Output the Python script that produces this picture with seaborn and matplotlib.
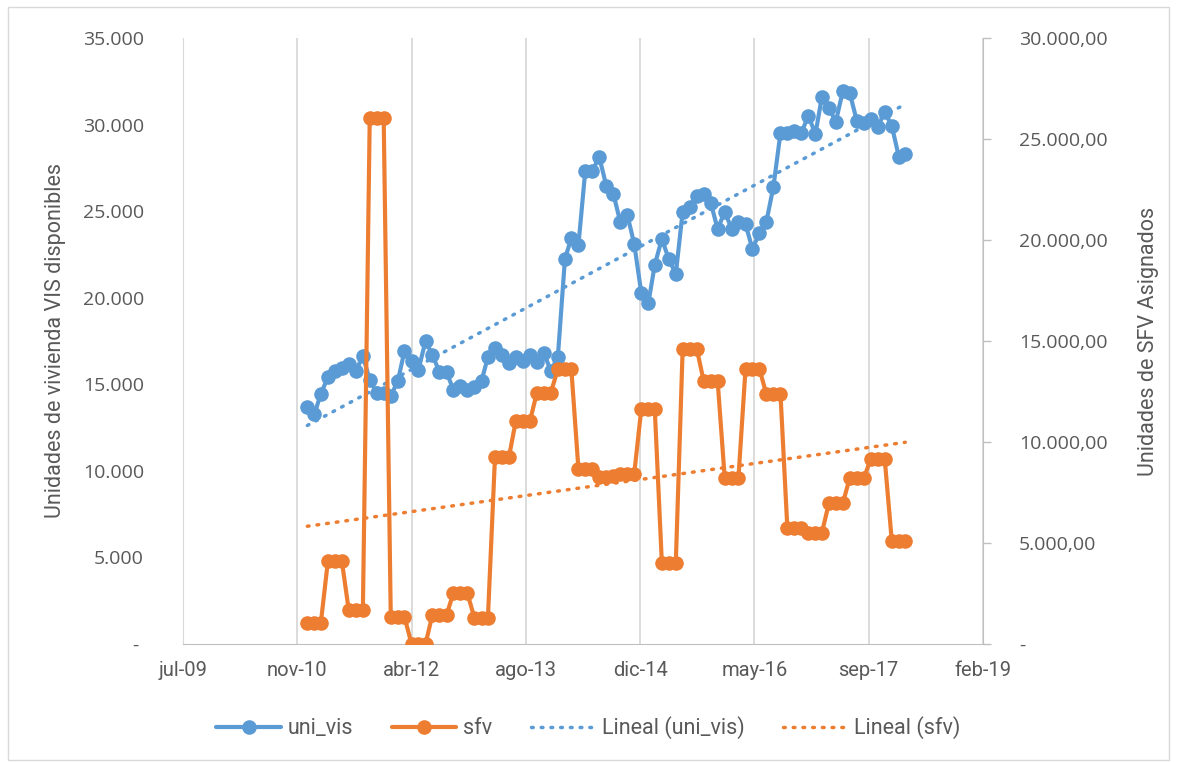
import numpy as np
import pandas as pd
import matplotlib
matplotlib.use("Agg")
import matplotlib.pyplot as plt
import matplotlib.dates as mdates
from matplotlib.ticker import FuncFormatter, MultipleLocator
from matplotlib.lines import Line2D
import seaborn as sns

# Monthly series, Jan 2011 - Mar 2018
uni_vis = [
    13690, 13290, 14440, 15420, 15770, 15940, 16180, 15770, 16640, 15250,
    14500, 14500, 14330, 15190, 16930, 16350, 15830, 17500, 16700, 15710,
    15710, 14670, 14900, 14670, 14850, 15190, 16580, 17100, 16700, 16230,
    16580, 16350, 16700, 16290, 16810, 15770, 16580, 22240, 23450, 23050,
    27330, 27330, 28130, 26460, 26000, 24380, 24780, 23110, 20280, 19700,
    21900, 23400, 22240, 21370, 24960, 25250, 25880, 26000, 25480, 23970,
    24960, 23970, 24380, 24260, 22820, 23740, 24380, 26400, 29520, 29520,
    29640, 29520, 30500, 29460, 31600, 30960, 30160, 31950, 31830, 30210,
    30100, 30330, 29870, 30730, 29920, 28130, 28310,
]
sfv = [
    1040, 1040, 1040, 4110, 4110, 4110, 1680, 1680, 1680, 26040,
    26040, 26040, 1340, 1340, 1340, 0, 0, 0, 1440, 1440,
    1440, 2520, 2520, 2520, 1290, 1290, 1290, 9260, 9260, 9260,
    11040, 11040, 11040, 12430, 12430, 12430, 13610, 13610, 13610, 8660,
    8660, 8660, 8260, 8260, 8300, 8420, 8420, 8420, 11630, 11630,
    11630, 4010, 4010, 4010, 14600, 14600, 14600, 13020, 13020, 13020,
    8220, 8220, 8220, 13610, 13610, 13610, 12380, 12380, 12380, 5740,
    5740, 5740, 5500, 5500, 5500, 6980, 6980, 6980, 8220, 8220,
    8220, 9160, 9160, 9160, 5100, 5100, 5100,
]
fechas = pd.date_range("2011-01-01", periods=len(uni_vis), freq="MS")

# Date axis: one major tick every 500 days
tick_dates = pd.to_datetime(["2009-07-06", "2010-11-18", "2012-04-01", "2013-08-14",
                             "2014-12-27", "2016-05-10", "2017-09-22", "2019-02-04"])
tick_labels = ["jul-09", "nov-10", "abr-12", "ago-13", "dic-14", "may-16", "sep-17", "feb-19"]

df = pd.DataFrame({"fecha": fechas, "uni_vis": uni_vis, "sfv": sfv})

BLUE = "#5B9BD5"
ORANGE = "#ED7D31"
TXT = "#595959"
GRID = "#D9D9D9"

sns.set_style("white")
plt.rcParams["font.family"] = ["Open Sans", "DejaVu Sans"]

fig = plt.figure(figsize=(11.77, 7.62), dpi=100)
W, H = 1177, 762
ax = fig.add_axes([183 / W, 1 - 644 / H, (983 - 183) / W, (644 - 38) / H])
ax2 = ax.twinx()

# chart frame
fig.patches.append(plt.Rectangle((8 / W, 2 / H), 1 - 16 / W, 1 - 9 / H, transform=fig.transFigure,
                                 fill=False, edgecolor=GRID, linewidth=1.0))

ms = 10.5
lw = 3.0
dots = (0, (0.5, 2.3))
sns.lineplot(data=df, x="fecha", y="uni_vis", ax=ax, color=BLUE, marker="o",
             markersize=ms, markeredgewidth=0, linewidth=lw, zorder=3)
sns.lineplot(data=df, x="fecha", y="sfv", ax=ax2, color=ORANGE, marker="o",
             markersize=ms, markeredgewidth=0, linewidth=lw, zorder=3)

# linear trendlines on the date number
xn = mdates.date2num(df["fecha"])
for serie, axis, col in [("uni_vis", ax, BLUE), ("sfv", ax2, ORANGE)]:
    m, b = np.polyfit(xn, df[serie].values, 1)
    tr = pd.DataFrame({"fecha": df["fecha"], "trend": m * xn + b})
    sns.lineplot(data=tr, x="fecha", y="trend", ax=axis, color=col,
                 linewidth=2.5, linestyle=dots, dash_capstyle="round", zorder=2)

# axes limits and ticks
ax.set_xlim(tick_dates[0], tick_dates[-1])
ax.set_xticks(tick_dates)
ax.set_xticklabels(tick_labels)
ax.set_ylim(0, 35000)
ax.yaxis.set_major_locator(MultipleLocator(5000))
ax2.set_ylim(0, 30000)
ax2.yaxis.set_major_locator(MultipleLocator(5000))


def fmt_left(v, pos):
    if v == 0:
        return "- "
    return f"{int(v):,}".replace(",", ".")


def fmt_right(v, pos):
    if v == 0:
        return "-"
    return f"{v:,.2f}".replace(",", "X").replace(".", ",").replace("X", ".")


ax.yaxis.set_major_formatter(FuncFormatter(fmt_left))
ax2.yaxis.set_major_formatter(FuncFormatter(fmt_right))

ax.grid(axis="x", color=GRID, linewidth=1.3)
ax.grid(axis="y", visible=False)
ax2.grid(False)
ax.set_axisbelow(True)

for a in (ax, ax2):
    for s in a.spines.values():
        s.set_visible(False)
ax.spines["left"].set_visible(True)
ax.spines["left"].set_color(GRID)
ax.spines["bottom"].set_visible(True)
ax.spines["bottom"].set_color("#BFBFBF")
ax2.spines["right"].set_visible(True)
ax2.spines["right"].set_color("#BFBFBF")

ax.tick_params(axis="y", length=0, pad=28, labelsize=14, labelcolor=TXT)
ax.tick_params(axis="x", length=0, pad=12, labelsize=14, labelcolor=TXT)
ax2.tick_params(axis="y", length=6, width=1, color="#BFBFBF", pad=20,
                labelsize=14, labelcolor=TXT)
ax.set_xlabel("")
ax2.set_xlabel("")

title_font = ["Roboto", "DejaVu Sans"]
ax.set_ylabel("Unidades de vivienda VIS disponibles", fontsize=15.5, color=TXT,
              family=title_font, labelpad=12)
ax2.set_ylabel("Unidades de SFV Asignados", fontsize=15.5, color=TXT,
               family=title_font, labelpad=22)
for lab in ax.get_xticklabels():
    lab.set_family(title_font)
    lab.set_fontsize(14.5)

handles = [
    Line2D([], [], color=BLUE, marker="o", markersize=ms, markeredgewidth=0, linewidth=lw),
    Line2D([], [], color=ORANGE, marker="o", markersize=ms, markeredgewidth=0, linewidth=lw),
    Line2D([], [], color=BLUE, linewidth=2.5, linestyle=dots, dash_capstyle="round"),
    Line2D([], [], color=ORANGE, linewidth=2.5, linestyle=dots, dash_capstyle="round"),
]
leg = fig.legend(handles, ["uni_vis", "sfv", "Lineal (uni_vis)", "Lineal (sfv)"],
                 loc="center", bbox_to_anchor=(0.5, 1 - 728 / H), ncol=4, frameon=False,
                 handlelength=3.0, columnspacing=1.8, handletextpad=0.3,
                 prop={"family": title_font, "size": 15.5})
for t in leg.get_texts():
    t.set_color(TXT)

fig.savefig("out.png", dpi=100)
